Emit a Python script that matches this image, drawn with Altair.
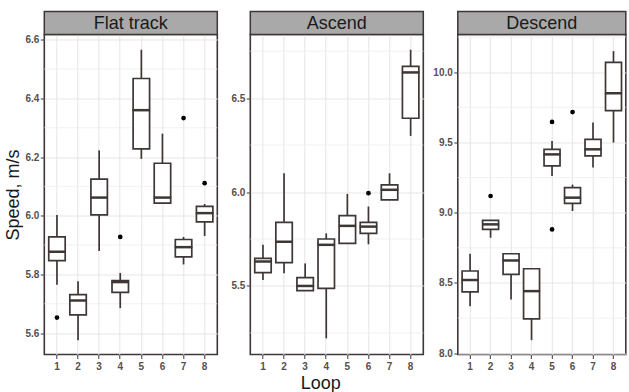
import altair as alt
import pandas as pd

loops = [1, 2, 3, 4, 5, 6, 7, 8]

# Flat track
flat_lower = [5.765, 5.576, 5.880, 5.685, 6.194, 6.043, 5.834, 5.931]
flat_q1 = [5.847, 5.662, 6.003, 5.739, 6.228, 6.043, 5.860, 5.979]
flat_median = [5.877, 5.711, 6.062, 5.774, 6.360, 6.062, 5.893, 6.009]
flat_q3 = [5.928, 5.731, 6.125, 5.779, 6.468, 6.179, 5.919, 6.032]
flat_upper = [6.003, 5.777, 6.223, 5.805, 6.566, 6.280, 5.928, 6.040]
flat_out_loop = [1, 4, 7, 8]
flat_out_val = [5.653, 5.928, 6.333, 6.111]

# Ascend
asc_lower = [5.532, 5.567, 5.475, 5.221, 5.727, 5.722, 5.958, 6.299]
asc_q1 = [5.571, 5.624, 5.475, 5.487, 5.727, 5.780, 5.958, 6.393]
asc_median = [5.630, 5.736, 5.500, 5.719, 5.820, 5.816, 6.012, 6.637]
asc_q3 = [5.647, 5.839, 5.544, 5.750, 5.875, 5.839, 6.038, 6.669]
asc_upper = [5.719, 6.100, 5.620, 5.780, 5.990, 5.923, 6.100, 6.758]
asc_out_loop = [6]
asc_out_val = [5.994]

# Descend
desc_lower = [8.335, 8.822, 8.383, 8.093, 9.261, 9.012, 9.321, 9.499]
desc_q1 = [8.437, 8.881, 8.561, 8.245, 9.333, 9.066, 9.404, 9.727]
desc_median = [8.521, 8.917, 8.660, 8.442, 9.415, 9.107, 9.451, 9.850]
desc_q3 = [8.585, 8.945, 8.708, 8.601, 9.451, 9.178, 9.522, 10.07]
desc_upper = [8.708, 8.945, 8.708, 8.601, 9.511, 9.200, 9.641, 10.15]
desc_out_loop = [2, 5, 5, 6]
desc_out_val = [9.119, 9.646, 8.881, 9.716]

flat_domain = [5.527, 6.618]
flat_major = [5.6, 5.8, 6.0, 6.2, 6.4, 6.6]
flat_minor = [5.7, 5.9, 6.1, 6.3, 6.5]
asc_domain = [5.135, 6.839]
asc_major = [5.5, 6.0, 6.5]
asc_minor = [5.25, 5.75, 6.25, 6.75]
desc_domain = [7.991, 10.268]
desc_major = [8.0, 8.5, 9.0, 9.5, 10.0]
desc_minor = [8.25, 8.75, 9.25, 9.75, 10.25]

H = 320
DARK = "#3f3636"
FONT = "Liberation Sans"


def panel(name, lower, q1, med, q3, upper, out_loop, out_val, domain, major, minor, W,
          ytitle=None, xtitle=None, xtitle_x=None):
    df = pd.DataFrame({"Loop": loops, "lower": lower, "q1": q1, "median": med,
                       "q3": q3, "upper": upper})
    odf = pd.DataFrame({"Loop": out_loop, "val": out_val})
    mdf = pd.DataFrame({"m": minor})
    sdf = pd.DataFrame({"label": [name]})

    xscale = alt.Scale(type="band", domain=loops, paddingInner=0.22, paddingOuter=0.21)
    yscale = alt.Scale(domain=domain, nice=False, zero=False)

    xaxis_kwargs = dict(labelAngle=0, bandPosition=0.5, domain=False, grid=True,
                        title=xtitle if xtitle else None)
    if xtitle and xtitle_x is not None:
        xaxis_kwargs["titleX"] = xtitle_x
        xaxis_kwargs["titleY"] = 34
        xaxis_kwargs["titleBaseline"] = "alphabetic"
    xaxis = alt.Axis(**xaxis_kwargs)

    yaxis = alt.Axis(values=major, format=".1f", domain=False, grid=True,
                     title=ytitle if ytitle else None)

    X = alt.X("Loop:O", scale=xscale, axis=xaxis)
    step = W / 8.2
    bw = step * 0.78

    minor_grid = alt.Chart(mdf).mark_rule(color="#f0ecec", strokeWidth=0.8).encode(
        y=alt.Y("m:Q", scale=yscale, axis=yaxis),
        x=alt.value(0), x2=alt.value(W),
    )
    whisk = alt.Chart(df).mark_rule(color=DARK, strokeWidth=1.7).encode(
        x=X,
        y=alt.Y("lower:Q", scale=yscale, axis=yaxis),
        y2="upper:Q",
    )
    box = alt.Chart(df).mark_bar(fill="white", stroke=DARK, strokeWidth=1.7).encode(
        x=X,
        y=alt.Y("q1:Q", scale=yscale, axis=yaxis),
        y2="q3:Q",
    )
    medl = alt.Chart(df).mark_tick(color=DARK, thickness=2.5, size=bw + 1.2, opacity=1).encode(
        x=X,
        y=alt.Y("median:Q", scale=yscale, axis=yaxis),
    )
    outl = alt.Chart(odf).mark_circle(color="black", size=22, opacity=1).encode(
        x=X,
        y=alt.Y("val:Q", scale=yscale, axis=yaxis),
    )
    strip = alt.Chart(sdf).mark_rect(fill="#a9a9a9", stroke=DARK, strokeWidth=1.5).encode(
        x=alt.value(0), x2=alt.value(W), y=alt.value(-23), y2=alt.value(0),
    )
    stext = alt.Chart(sdf).mark_text(font=FONT, fontSize=18, color="#1a1a1a",
                                     baseline="middle", align="center").encode(
        x=alt.value(W / 2), y=alt.value(-10.5), text="label:N",
    )
    return alt.layer(minor_grid, whisk, box, medl, outl, strip, stext).properties(
        width=W, height=H
    )


p1 = panel("Flat track", flat_lower, flat_q1, flat_median, flat_q3, flat_upper,
           flat_out_loop, flat_out_val, flat_domain, flat_major, flat_minor, 173,
           ytitle="Speed, m/s")
p2 = panel("Ascend", asc_lower, asc_q1, asc_median, asc_q3, asc_upper,
           asc_out_loop, asc_out_val, asc_domain, asc_major, asc_minor, 173,
           xtitle="Loop", xtitle_x=70)
p3 = panel("Descend", desc_lower, desc_q1, desc_median, desc_q3, desc_upper,
           desc_out_loop, desc_out_val, desc_domain, desc_major, desc_minor, 168)

left = alt.hconcat(p1, p2, spacing=10)
chart = alt.hconcat(left, p3, spacing=6.5).properties(
    padding={"left": 3.3, "top": 9.5, "right": 0, "bottom": 0},
    background="white",
).configure_view(
    stroke=DARK, strokeWidth=1.6
).configure_axis(
    labelFont=FONT, labelFontSize=10, labelFontWeight="bold", labelColor="#555050",
    tickColor=DARK, tickSize=4, tickWidth=1,
    gridColor="#e9e4e4", gridWidth=1,
    titleFont=FONT, titleFontSize=18, titleFontWeight="normal", titleColor="#1a1a1a",
).configure_axisX(
    labelPadding=3
).configure_axisY(
    labelPadding=1.5, titlePadding=2
)

chart.save("out.html", embed_options={"renderer": "svg", "actions": False})
